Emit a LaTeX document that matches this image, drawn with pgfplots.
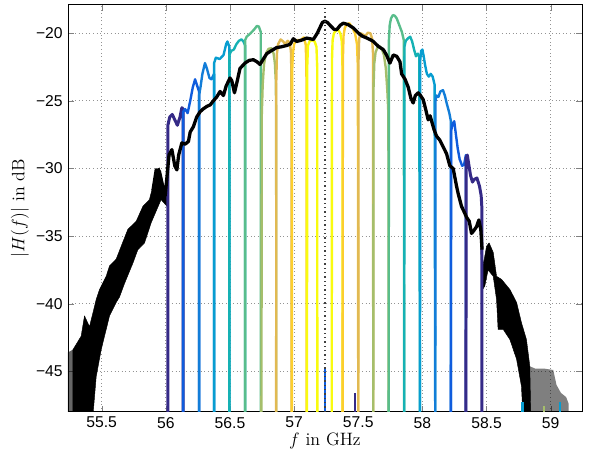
\documentclass[border=0pt]{standalone}
\usepackage{fontspec}
\usepackage{pgfplots}
\pgfplotsset{compat=1.18}
\newfontfamily\ticksf{Liberation Sans}
\definecolor{p0}{rgb}{0.2081,0.1663,0.5292}
\definecolor{p1}{rgb}{0.0591,0.3598,0.8683}
\definecolor{p2}{rgb}{0.0723,0.4887,0.8467}
\definecolor{p3}{rgb}{0.0265,0.6137,0.8135}
\definecolor{p4}{rgb}{0.0843,0.6928,0.7062}
\definecolor{p5}{rgb}{0.3482,0.7424,0.5473}
\definecolor{p6}{rgb}{0.6473,0.7456,0.4188}
\definecolor{p7}{rgb}{0.8824,0.7274,0.3217}
\definecolor{p8}{rgb}{0.9880,0.8066,0.1794}
\definecolor{p9}{rgb}{0.9763,0.9831,0.0538}
\begin{document}
\begin{tikzpicture}
\begin{axis}[
 scale only axis, width=342.7bp, height=271.3bp,
 xmin=55.237, xmax=59.244, ymin=-48, ymax=-17.9,
 xtick={55.5,56,56.5,57,57.5,58,58.5,59},
 xticklabels={55.5,56,56.5,57,57.5,58,58.5,59},
 ytick={-45,-40,-35,-30,-25,-20},
 yticklabels={−45,−40,−35,−30,−25,−20},
 tick label style={font=\fontsize{10.5}{12}\ticksf},
 tick align=inside, major tick length=4bp,
 grid=major, grid style={dotted, gray!85, line width=0.6pt},
 axis line style={line width=0.6pt},
 xlabel={$f$ in GHz}, ylabel={$|H(f)|$ in dB},
 label style={font=\fontsize{12}{14}\selectfont},
 xlabel style={yshift=4bp},
 ylabel style={yshift=-2bp},
 every axis plot/.append style={line join=round},
]
% ---- black measured trace: noisy tails as areas ----
\addplot[fill=black, draw=black, line width=0.3pt] coordinates {
(55.276,-43.4)(55.34,-42.4)(55.366,-40.9)(55.405,-41.7)(55.457,-39.7)(55.483,-38.96)(55.535,-37.97)(55.561,-37.2)(55.613,-36.7)(55.652,-35.75)(55.704,-34.5)(55.769,-33.9)(55.821,-32.8)(55.872,-32.3)(55.899,-31.3)(55.924,-30.1)(55.95,-29.95)(55.977,-31.0)(55.997,-32.0)(56.01,-31.5)
(56.01,-32.8)(55.963,-32.3)(55.886,-34.0)(55.834,-35.5)(55.782,-36.0)(55.743,-37.0)(55.678,-38.5)(55.639,-39.5)(55.613,-39.9)(55.561,-40.9)(55.522,-42.4)(55.496,-43.4)(55.457,-45.4)(55.436,-47.8)(55.434,-48.5)(55.276,-48.5)} -- cycle;
\addplot[fill=black, draw=none, fill opacity=0.6] coordinates {
(55.237,-43.6)(55.276,-43.4)(55.285,-48.5)(55.237,-48.5)} -- cycle;
\addplot[fill=black, draw=black, line width=0.3pt] coordinates {
(58.455,-34.0)(58.473,-37.2)(58.50,-35.75)(58.52,-35.5)(58.552,-36.2)(58.578,-37.97)(58.617,-38.2)(58.682,-38.95)(58.734,-39.9)(58.772,-41.4)(58.811,-42.65)(58.837,-44.6)(58.845,-48.5)
(58.785,-48.5)(58.772,-46.1)(58.734,-44.1)(58.682,-42.65)(58.63,-41.9)(58.59,-41.9)(58.578,-39.7)(58.552,-37.97)(58.512,-37.5)(58.486,-38.7)(58.468,-38.96)(58.455,-36.0)} -- cycle;
\addplot[fill=black, draw=none, fill opacity=0.5] coordinates {
(58.83,-44.6)(58.88,-44.8)(58.95,-44.8)(59.02,-44.9)(59.045,-46.0)(59.08,-46.6)(59.12,-46.9)(59.14,-47.4)(59.14,-48.5)(58.83,-48.5)} -- cycle;
% ---- channels ----
\addplot[p0, line width=2pt] coordinates {(56.016,-49)(56.016,-26.8)(56.03,-26.2)(56.05,-26.0)(56.07,-26.4)(56.09,-26.8)(56.11,-26.2)(56.125,-25.5)(56.135,-25.6)(56.135,-49)};
\addplot[p1, line width=1.6pt] coordinates {(56.135,-49)(56.135,-25.8)(56.15,-25.6)(56.17,-25.9)(56.19,-25.0)(56.21,-24.0)(56.228,-23.4)(56.245,-23.9)(56.259,-24.3)(56.259,-49)};
\addplot[p2, line width=1.6pt] coordinates {(56.259,-49)(56.259,-24.6)(56.27,-24.0)(56.285,-23.0)(56.305,-22.2)(56.32,-22.6)(56.34,-23.3)(56.355,-23.4)(56.376,-23.0)(56.376,-49)};
\addplot[p3, line width=1.6pt] coordinates {(56.376,-49)(56.376,-22.2)(56.39,-21.8)(56.42,-21.9)(56.45,-21.6)(56.47,-20.8)(56.48,-20.6)(56.495,-21.0)(56.495,-49)};
\addplot[p4, line width=1.6pt] coordinates {(56.495,-49)(56.495,-21.6)(56.51,-21.3)(56.53,-21.2)(56.55,-20.8)(56.57,-20.55)(56.59,-20.45)(56.605,-20.6)(56.618,-20.9)(56.618,-49)};
\addplot[p5, line width=1.6pt] coordinates {(56.618,-49)(56.618,-20.5)(56.63,-20.25)(56.66,-20.0)(56.69,-19.7)(56.71,-19.45)(56.725,-19.5)(56.74,-19.9)(56.74,-49)};
\addplot[p6, line width=1.6pt] coordinates {(56.745,-49)(56.748,-26)(56.755,-23.8)(56.765,-22.3)(56.78,-21.5)(56.80,-21.15)(56.825,-21.1)(56.84,-21.5)(56.85,-22.2)(56.857,-23.5)(56.86,-26)(56.861,-49)};
\addplot[p7, line width=1.6pt] coordinates {(56.86,-49)(56.861,-23.5)(56.866,-21.5)(56.875,-20.8)(56.895,-20.45)(56.915,-20.6)(56.93,-20.8)(56.95,-20.55)(56.965,-20.7)(56.975,-21.3)(56.979,-23)(56.98,-49)};
\addplot[p8, line width=1.6pt] coordinates {(56.982,-49)(56.984,-23)(56.99,-21.5)(57.0,-20.8)(57.02,-20.5)(57.05,-20.5)(57.075,-20.3)(57.09,-20.8)(57.096,-22.5)(57.098,-49)};
\addplot[p9, line width=1.6pt] coordinates {(57.10,-49)(57.102,-22.5)(57.108,-20.9)(57.12,-20.6)(57.14,-20.5)(57.16,-20.6)(57.174,-21.0)(57.18,-22.5)(57.181,-49)};
\addplot[p9, line width=1.6pt] coordinates {(57.293,-49)(57.295,-22)(57.30,-20.5)(57.31,-20.0)(57.325,-19.8)(57.345,-19.75)(57.36,-20.0)(57.372,-20.6)(57.377,-22.5)(57.378,-49)};
\addplot[p8, line width=1.6pt] coordinates {(57.378,-49)(57.38,-22)(57.385,-20.2)(57.395,-19.6)(57.41,-19.35)(57.43,-19.25)(57.455,-19.6)(57.475,-20.0)(57.49,-20.8)(57.497,-22.5)(57.50,-49)};
\addplot[p7, line width=1.6pt] coordinates {(57.50,-49)(57.502,-22)(57.507,-20.4)(57.52,-20.0)(57.54,-20.1)(57.555,-20.2)(57.575,-19.95)(57.595,-20.0)(57.608,-20.4)(57.615,-21.5)(57.617,-49)};
\addplot[p6, line width=1.6pt] coordinates {(57.617,-49)(57.619,-24)(57.625,-22.2)(57.635,-21.4)(57.65,-21.05)(57.665,-20.95)(57.685,-21.2)(57.70,-21.6)(57.715,-22.6)(57.727,-24.3)(57.735,-26)(57.737,-49)};
\addplot[p5, line width=1.6pt] coordinates {(57.737,-49)(57.739,-20.5)(57.745,-19.4)(57.755,-18.9)(57.77,-18.65)(57.785,-18.7)(57.80,-18.9)(57.82,-19.4)(57.84,-19.9)(57.855,-20.5)(57.858,-49)};
\addplot[p4, line width=1.6pt] coordinates {(57.858,-49)(57.86,-21)(57.87,-20.55)(57.89,-20.35)(57.905,-20.25)(57.92,-20.6)(57.935,-21.2)(57.95,-21.7)(57.965,-21.5)(57.975,-21.7)(57.981,-49)};
\addplot[p3, line width=1.6pt] coordinates {(57.981,-49)(57.983,-22.0)(57.99,-21.3)(58.0,-21.2)(58.01,-21.7)(58.02,-22.3)(58.035,-23.0)(58.05,-23.2)(58.065,-23.0)(58.08,-23.2)(58.095,-23.8)(58.10,-49)};
\addplot[p2, line width=1.6pt] coordinates {(58.10,-49)(58.102,-25.0)(58.11,-24.6)(58.125,-24.7)(58.14,-24.3)(58.16,-24.2)(58.175,-24.6)(58.19,-25.2)(58.21,-25.9)(58.222,-26.5)(58.222,-49)};
\addplot[p1, line width=1.6pt] coordinates {(58.222,-49)(58.224,-27.2)(58.235,-26.7)(58.248,-26.5)(58.26,-27.4)(58.275,-28.5)(58.29,-29.3)(58.31,-29.8)(58.325,-29.7)(58.339,-29.0)(58.339,-49)};
\addplot[p0, line width=2pt] coordinates {(58.339,-49)(58.341,-29.2)(58.35,-29.0)(58.36,-29.6)(58.375,-30.5)(58.39,-31.0)(58.405,-30.8)(58.425,-30.7)(58.445,-31.3)(58.458,-32.0)(58.464,-33)(58.464,-49)};
% small stray bits
\addplot[p1, line width=1.4pt] coordinates {(57.24,-49)(57.24,-44.7)};
\addplot[p0, line width=1.4pt] coordinates {(57.474,-49)(57.474,-46.6)};
\addplot[p3, line width=1.4pt] coordinates {(58.78,-49)(58.78,-47.3)};
\addplot[p3, line width=1.4pt] coordinates {(59.07,-49)(59.07,-47.3)};
\addplot[p6, line width=1.2pt] coordinates {(58.95,-49)(58.95,-47.6)};
% ---- black measured trace (main) ----
\addplot[black, line width=2.2pt] coordinates {
(55.90,-31.6)(55.925,-30.1)(55.95,-30.2)(55.975,-31.3)(55.995,-32.0)(56.01,-30.5)(56.025,-29.0)(56.047,-28.6)(56.07,-29.8)(56.086,-30.1)(56.10,-29.0)(56.125,-28.1)(56.15,-28.2)(56.176,-28.0)(56.19,-27.3)(56.215,-26.9)(56.24,-26.2)(56.267,-25.8)(56.29,-25.6)(56.32,-25.4)(56.345,-25.3)(56.37,-25.0)(56.397,-24.7)(56.423,-24.3)(56.449,-24.6)(56.47,-23.9)(56.50,-23.3)(56.514,-23.5)(56.535,-24.4)(56.55,-23.8)(56.578,-22.6)(56.617,-22.2)(56.65,-22.0)(56.682,-21.95)(56.71,-22.1)(56.734,-22.3)(56.76,-21.9)(56.787,-21.5)(56.82,-21.3)(56.864,-21.05)(56.90,-21.0)(56.942,-20.9)(56.97,-20.8)(56.994,-20.4)(57.02,-20.6)(57.06,-20.5)(57.098,-20.35)(57.15,-20.45)(57.18,-20.0)(57.20,-19.6)(57.22,-19.2)(57.24,-19.1)(57.26,-19.2)(57.28,-19.4)(57.31,-19.7)(57.332,-19.73)(57.36,-19.4)(57.383,-19.25)(57.42,-19.35)(57.461,-19.6)(57.50,-19.97)(57.53,-20.2)(57.565,-20.34)(57.60,-20.5)(57.617,-20.6)(57.656,-20.96)(57.695,-21.2)(57.72,-21.6)(57.747,-22.2)(57.773,-21.6)(57.80,-21.7)(57.825,-22.1)(57.838,-23.0)(57.865,-23.4)(57.89,-24.0)(57.91,-24.8)(57.928,-25.15)(57.945,-24.6)(57.967,-24.4)(57.985,-24.6)(58.006,-24.9)(58.025,-25.6)(58.045,-26.4)(58.06,-26.1)(58.075,-26.6)(58.09,-27.1)(58.11,-27.6)(58.136,-27.9)(58.162,-28.4)(58.188,-28.9)(58.214,-29.8)(58.24,-30.0)(58.266,-31.3)(58.28,-31.9)(58.305,-32.8)(58.325,-33.2)(58.344,-33.6)(58.365,-33.9)(58.383,-34.8)(58.40,-34.6)(58.422,-34.3)(58.44,-33.8)(58.455,-34.5)(58.465,-36.0)};
% ---- dotted centre marker ----
\addplot[black!75, dotted, line width=0.9pt] coordinates {(57.24,-48)(57.24,-17.9)};
\coordinate (sw) at (rel axis cs:0,0);
\coordinate (ne) at (rel axis cs:1,1);
\end{axis}
\pgfresetboundingbox
\path ([xshift=-45.3bp,yshift=-30bp]sw) rectangle ([xshift=6bp,yshift=3.3bp]ne);
\end{tikzpicture}
\end{document}
